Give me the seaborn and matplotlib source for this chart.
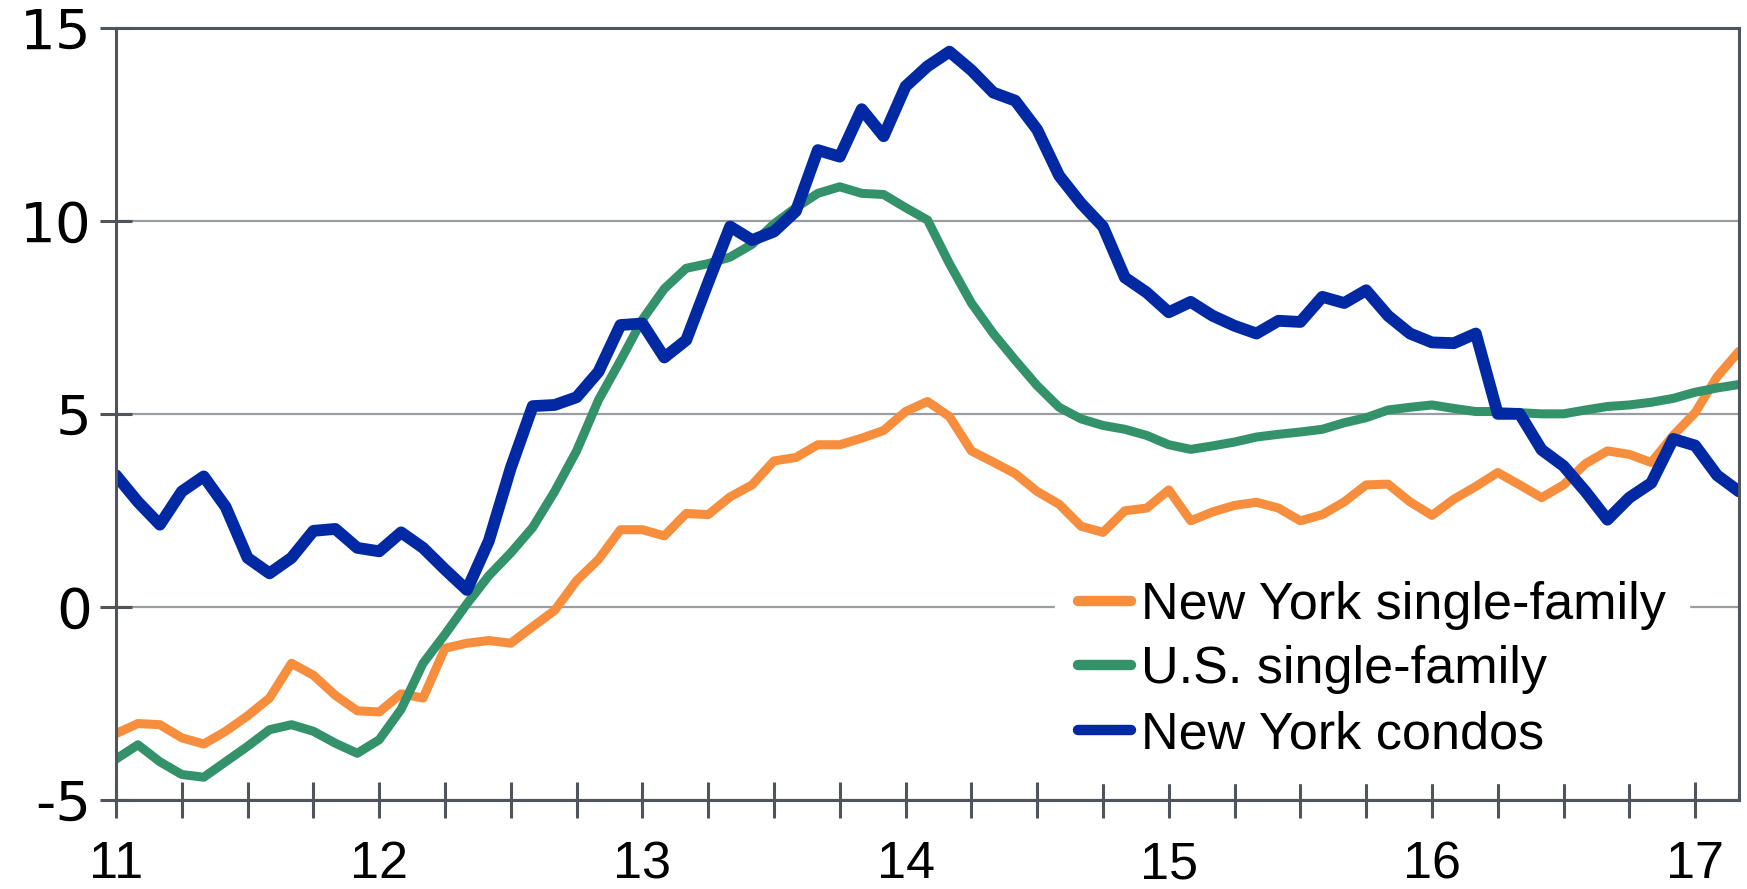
import numpy as np
import pandas as pd
import matplotlib
matplotlib.use("Agg")
import matplotlib.pyplot as plt
import seaborn as sns

# monthly series, Jan 2011 .. Mar 2017 (year-over-year % change)
ny_single_family = [
    -3.28, -3.02, -3.05, -3.39, -3.55, -3.22, -2.82, -2.36, -1.46, -1.77,
    -2.29, -2.69, -2.72, -2.25, -2.36, -1.07, -0.94, -0.87, -0.94, -0.51,
    -0.09, 0.68, 1.23, 2.00, 2.00, 1.84, 2.42, 2.39, 2.85, 3.16,
    3.78, 3.87, 4.20, 4.20, 4.37, 4.57, 5.06, 5.32, 4.93, 4.04,
    3.75, 3.45, 2.99, 2.66, 2.09, 1.93, 2.49, 2.56, 3.03, 2.23,
    2.46, 2.63, 2.71, 2.56, 2.23, 2.39, 2.72, 3.16, 3.18, 2.72,
    2.37, 2.79, 3.12, 3.48, 3.16, 2.83, 3.16, 3.71, 4.04, 3.95,
    3.74, 4.44, 5.03, 5.96, 6.62,
]
us_single_family = [
    -3.94, -3.57, -4.01, -4.34, -4.41, -4.01, -3.61, -3.18, -3.05, -3.22,
    -3.53, -3.79, -3.44, -2.65, -1.46, -0.71, 0.08, 0.81, 1.40, 2.06,
    2.99, 4.04, 5.36, 6.38, 7.44, 8.24, 8.77, 8.89, 9.06, 9.39,
    9.92, 10.34, 10.71, 10.88, 10.71, 10.68, 10.34, 10.02, 8.89, 7.87,
    7.08, 6.39, 5.73, 5.17, 4.87, 4.70, 4.60, 4.44, 4.20, 4.08,
    4.17, 4.27, 4.40, 4.47, 4.53, 4.60, 4.77, 4.90, 5.10, 5.17,
    5.23, 5.14, 5.06, 5.06, 5.03, 5.00, 5.00, 5.10, 5.19, 5.23,
    5.30, 5.40, 5.56, 5.67, 5.76,
]
ny_condos = [
    3.41, 2.72, 2.13, 2.99, 3.38, 2.59, 1.27, 0.87, 1.27, 1.97,
    2.02, 1.53, 1.44, 1.93, 1.53, 0.97, 0.44, 1.71, 3.60, 5.20,
    5.23, 5.43, 6.09, 7.30, 7.34, 6.46, 6.91, 8.40, 9.85, 9.50,
    9.72, 10.25, 11.83, 11.66, 12.89, 12.19, 13.48, 14.00, 14.38, 13.90,
    13.32, 13.11, 12.36, 11.17, 10.45, 9.85, 8.53, 8.14, 7.63, 7.90,
    7.54, 7.28, 7.08, 7.41, 7.38, 8.03, 7.87, 8.20, 7.54, 7.08,
    6.85, 6.83, 7.08, 5.00, 5.00, 4.07, 3.65, 2.99, 2.26, 2.83,
    3.21, 4.35, 4.18, 3.41, 2.99,
]

series_names = ["New York single-family", "U.S. single-family", "New York condos"]
series_colors = ["#F68E3D", "#34926B", "#0029A3"]
series_widths = [6.5, 6.5, 8.5]
year_labels = ["11", "12", "13", "14", "15", "16", "17"]
y_ticks = [-5, 0, 5, 10, 15]

# x position in "two-digit year" units, one step per month
months = 11 + np.arange(len(ny_condos)) / 12

df = pd.DataFrame({
    "t": months,
    series_names[0]: ny_single_family,
    series_names[1]: us_single_family,
    series_names[2]: ny_condos,
})

sns.set_style("white")
plt.rcParams["font.family"] = ["Liberation Sans", "DejaVu Sans"]
plt.rcParams["axes.unicode_minus"] = False
plt.rcParams["text.color"] = "black"

fig = plt.figure(figsize=(17.47, 8.89), dpi=100)
ax = fig.add_axes([116 / 1747, 1 - 800 / 889, (1739 - 116) / 1747, (800 - 27.7) / 889])

for name, col, lw in zip(series_names, series_colors, series_widths):
    sns.lineplot(data=df, x="t", y=name, color=col, lw=lw, label=name, ax=ax,
                 solid_joinstyle="round", solid_capstyle="round")

ax.set_xlim(months[0], months[-1])
ax.set_ylim(-5, 15)
ax.set_xlabel("")
ax.set_ylabel("")

# years as labelled ticks, quarters as unlabelled ticks
ax.set_xticks(np.arange(11, 18))
ax.set_xticklabels(year_labels)
ax.set_xticks(np.arange(11, 17.2, 0.25), minor=True)
ax.set_yticks(y_ticks)
ax.set_yticklabels([str(v) for v in y_ticks], family="DejaVu Sans")

spine_col = "#50555B"
for s in ax.spines.values():
    s.set_visible(True)
    s.set_color(spine_col)
    s.set_linewidth(2.2)

ax.tick_params(axis="x", which="both", bottom=True, direction="inout", length=26, width=2.2,
               color=spine_col, labelcolor="black", labelsize=37.5, pad=16)
ax.tick_params(axis="y", left=True, direction="inout", length=23, width=2.2,
               color=spine_col, labelcolor="black", labelsize=40.5, pad=6)

ax.yaxis.grid(True, color="#9A9DA1", lw=1.6)
ax.xaxis.grid(False)
ax.set_axisbelow(True)

leg = ax.legend(loc="center left", bbox_to_anchor=((1055 - 116) / 1623, (800 - 670) / 772.3),
                borderaxespad=0, fontsize=37.5, frameon=True, fancybox=False,
                facecolor="white", edgecolor="white", framealpha=1,
                handlelength=1.0, handletextpad=0.2, labelspacing=0.3, borderpad=0.45)
for h in leg.get_lines():
    h.set_linewidth(7.5)
for t in leg.get_texts():
    t.set_color("black")

fig.savefig("out.png", dpi=100)
